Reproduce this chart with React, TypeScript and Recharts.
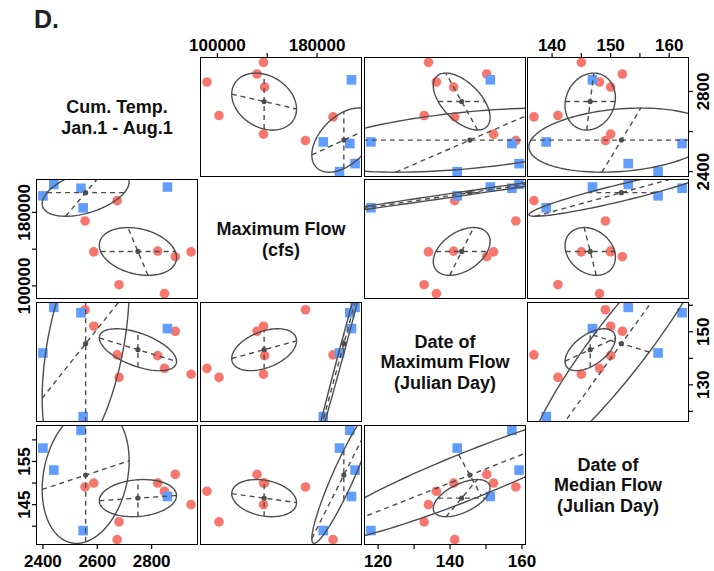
import React from "react";
import { ScatterChart, Scatter, XAxis, YAxis } from "recharts";

// Diagonal panel titles
const varLabels = [
  ["Cum. Temp.", "Jan.1 - Aug.1"],
  ["Maximum Flow", "(cfs)"],
  ["Date of", "Maximum Flow", "(Julian Day)"],
  ["Date of", "Median Flow", "(Julian Day)"],
];

// Red group (circles)
const redTemp = [2673, 2555, 2587, 2822, 2887, 2945, 2680, 2847];
const redFlow = [192800, 170700, 137000, 137900, 131800, 137000, 101300, 91600];
const redMaxDay = [141.3, 158.3, 152.1, 141, 150.2, 134, 132.8, 136.2];
const redMedDay = [136.9, 149.1, 150, 150, 152, 145, 141, 148.1];

// Blue group (squares)
const blueTemp = [2400, 2440, 2540, 2548, 2858];
const blueFlow = [198000, 210500, 206300, 185000, 207600];
const blueMaxDay = [142, 159.2, 157.2, 118, 151.2];
const blueMedDay = [158.1, 153, 162.2, 139, 146.9];

// Ellipse half-extent of each group along every variable
const redSpread = [142, 26000, 7.9, 4.3];
const blueSpread = [160, 25700, 44.8, 15.8];

// Ellipse correlations
const redCorr = [
  [1, -0.26, -0.56, 0.14],
  [-0.26, 1, 0.42, -0.24],
  [-0.56, 0.42, 1, 0.55],
  [0.14, -0.24, 0.55, 1],
];
const blueCorr = [
  [1, 0.46, 0.46, 0.21],
  [0.46, 1, 0.9965, 0.93],
  [0.46, 0.9965, 1, 0.93],
  [0.21, 0.93, 0.93, 1],
];

// Variable pairs; the straight dashed diameter keeps one variable fixed,
// the second dashed line is its conjugate diameter
const varPairs = [[0, 1], [0, 2], [0, 3], [1, 2], [1, 3], [2, 3]];
const redHeld = [1, 0, 0, 1, 1, 3];
const blueHeld = [1, 0, 0, 1, 1, 2];
// blue max/median day ellipse: first diameter along (max day, median day) direction
const blueFreeDiameter: (number[] | null)[] = [null, null, null, null, null, [7.55, -11.4]];

const axisTicks = [
  [2400, 2600, 2800],
  [100000, 140000, 180000],
  [120, 130, 140, 150, 160],
  [140, 145, 150, 155, 160],
];
const xTickLabels = [[2400, 2600, 2800], [100000, 180000], [120, 140, 160], [140, 150, 160]];
const yTickLabels = [[2400, 2800], [100000, 180000], [130, 150], [145, 155]];

const COL_X = [37, 201, 365, 528];
const ROW_Y = [58, 180, 303, 426];
const PW = 160;
const PH = 118;
const PAD = 40;
const INK = "#4D4D4D";
const FONT = '"Liberation Sans", Arial, Helvetica, sans-serif';

const groups = [
  {
    cols: [redTemp, redFlow, redMaxDay, redMedDay],
    spread: redSpread,
    corr: redCorr,
    held: redHeld,
    free: [] as (number[] | null)[],
    color: "#F8766D",
    square: false,
  },
  {
    cols: [blueTemp, blueFlow, blueMaxDay, blueMedDay],
    spread: blueSpread,
    corr: blueCorr,
    held: blueHeld,
    free: blueFreeDiameter,
    color: "#619CFF",
    square: true,
  },
];

const mean = (a: number[]) => a.reduce((s, v) => s + v, 0) / a.length;

// R-style ranges: data extent plus 4% on each side
const domains = [0, 1, 2, 3].map((v) => {
  const all = [...groups[0].cols[v], ...groups[1].cols[v]];
  const lo = Math.min(...all);
  const hi = Math.max(...all);
  const pad = (hi - lo) * 0.04;
  return [lo - pad, hi + pad];
});

function buildLayer(g: (typeof groups)[number], row: number, col: number) {
  const xs = g.cols[col];
  const ys = g.cols[row];
  const points = xs.map((x, k) => ({ x, y: ys[k] }));
  const mx = mean(xs);
  const my = mean(ys);
  const sx = g.spread[col];
  const sy = g.spread[row];
  const r = g.corr[row][col];
  const k = Math.sqrt(1 - r * r);

  const ellipse = [];
  for (let n = 0; n <= 120; n++) {
    const t = (2 * Math.PI * n) / 120;
    ellipse.push({ x: mx + sx * Math.cos(t), y: my + sy * (r * Math.cos(t) + k * Math.sin(t)) });
  }

  const chord = (d: number[]) => {
    const q =
      (d[0] * d[0] * sy * sy - 2 * r * sx * sy * d[0] * d[1] + d[1] * d[1] * sx * sx) /
      (sx * sx * sy * sy * (1 - r * r));
    const t = 1 / Math.sqrt(q);
    return [
      { x: mx - t * d[0], y: my - t * d[1] },
      { x: mx + t * d[0], y: my + t * d[1] },
    ];
  };

  const p = varPairs.findIndex((vp) => vp[0] === Math.min(row, col) && vp[1] === Math.max(row, col));
  const h = g.held[p];
  let d1 = h === col ? [0, 1] : [1, 0];
  const d2 = h === col ? [sx, r * sy] : [r * sx, sy];
  const free = g.free[p];
  if (free) d1 = col < row ? [free[0], free[1]] : [free[1], free[0]];

  return { points, ellipse, dash1: chord(d1), dash2: chord(d2), center: [{ x: mx, y: my }] };
}

const hidden = () => <g />;

function Panel({ row, col }: { row: number; col: number }) {
  const topAxis = row === 0 && col % 2 === 1;
  const bottomAxis = row === 3 && col % 2 === 0;
  const leftAxis = col === 0 && row % 2 === 1;
  const rightAxis = col === 3 && row % 2 === 0;
  const margin = {
    top: topAxis ? 0 : PAD,
    bottom: bottomAxis ? 0 : PAD,
    left: leftAxis ? 0 : PAD,
    right: rightAxis ? 0 : PAD,
  };
  const layers = groups.map((g) => ({ g, ...buildLayer(g, row, col) }));

  const xTick = (pr: any) => {
    const v = pr.payload.value;
    if (!xTickLabels[col].includes(v)) return <g />;
    return (
      <text x={pr.x} y={topAxis ? pr.y - 2 : pr.y + 17.5} textAnchor="middle" fontSize={17}
        fontWeight="bold" fontFamily={FONT} fill="#000">{v}</text>
    );
  };
  const yTick = (pr: any) => {
    const v = pr.payload.value;
    if (!yTickLabels[row].includes(v)) return <g />;
    return (
      <text x={pr.x} y={pr.y} dy={leftAxis ? -2 : 16.3} transform={`rotate(-90, ${pr.x}, ${pr.y})`}
        textAnchor="middle" fontSize={17} fontWeight="bold" fontFamily={FONT} fill="#000">{v}</text>
    );
  };

  return (
    <div style={{ position: "absolute", left: COL_X[col] - PAD, top: ROW_Y[row] - PAD }}>
      <ScatterChart width={PW + 2 * PAD} height={PH + 2 * PAD} margin={margin}>
        <XAxis type="number" dataKey="x" domain={domains[col]} allowDataOverflow
          hide={!topAxis && !bottomAxis} orientation={topAxis ? "top" : "bottom"} height={PAD}
          ticks={axisTicks[col]} interval={0} tickSize={5} tickMargin={0} axisLine={false}
          tickLine={{ stroke: "#000", strokeWidth: 1.2 }} tick={xTick} />
        <YAxis type="number" dataKey="y" domain={domains[row]} allowDataOverflow
          hide={!leftAxis && !rightAxis} orientation={leftAxis ? "left" : "right"} width={PAD}
          ticks={axisTicks[row]} interval={0} tickSize={5} tickMargin={0} axisLine={false}
          tickLine={{ stroke: "#000", strokeWidth: 1.2 }} tick={yTick} />
        {layers.map((l, i) => (
          <Scatter key={`pts${i}`} data={l.points} isAnimationActive={false}
            shape={(s: any) =>
              l.g.square ? (
                <rect x={s.cx - 4.8} y={s.cy - 4.8} width={9.6} height={9.6} fill={l.g.color} />
              ) : (
                <circle cx={s.cx} cy={s.cy} r={4.8} fill={l.g.color} />
              )
            } />
        ))}
        {layers.map((l, i) => (
          <Scatter key={`ell${i}`} data={l.ellipse} isAnimationActive={false} shape={hidden}
            fill="none" line={{ stroke: INK, strokeWidth: 1.4, fill: "none" }} />
        ))}
        {layers.map((l, i) => (
          <Scatter key={`da${i}`} data={l.dash1} isAnimationActive={false} shape={hidden}
            fill="none" line={{ stroke: INK, strokeWidth: 1.4, strokeDasharray: "5 4", fill: "none" }} />
        ))}
        {layers.map((l, i) => (
          <Scatter key={`db${i}`} data={l.dash2} isAnimationActive={false} shape={hidden}
            fill="none" line={{ stroke: INK, strokeWidth: 1.4, strokeDasharray: "5 4", fill: "none" }} />
        ))}
        {layers.map((l, i) => (
          <Scatter key={`c${i}`} data={l.center} isAnimationActive={false}
            shape={(s: any) => <circle cx={s.cx} cy={s.cy} r={2.6} fill={INK} />} />
        ))}
      </ScatterChart>
      <div style={{
        position: "absolute", left: PAD - 0.8, top: PAD - 0.8, width: PW + 1.6, height: PH + 1.6,
        border: "1.6px solid #000", boxSizing: "border-box", pointerEvents: "none",
      }} />
    </div>
  );
}

export default function App() {
  const cells = [];
  for (let row = 0; row < 4; row++) {
    for (let col = 0; col < 4; col++) {
      if (row !== col) cells.push(<Panel key={`${row}-${col}`} row={row} col={col} />);
    }
  }
  return (
    <div style={{ position: "absolute", left: 0, top: 0, width: 714, height: 571, background: "#fff", overflow: "hidden" }}>
      {cells}
      <svg width={714} height={571} style={{ position: "absolute", left: 0, top: 0, pointerEvents: "none" }}>
        <text x={34} y={28} fontSize={25} fontWeight="bold" fontFamily={FONT} fill="#222">D.</text>
        {varLabels.map((lines, v) => {
          const cx = COL_X[v] + PW / 2;
          const cy = ROW_Y[v] + PH / 2;
          return lines.map((t, i) => (
            <text key={`${v}-${i}`} x={cx} y={cy + (i - (lines.length - 1) / 2) * 20.5 + 6.3}
              textAnchor="middle" fontSize={18} fontWeight="bold" fontFamily={FONT} fill="#111">{t}</text>
          ));
        })}
      </svg>
    </div>
  );
}
